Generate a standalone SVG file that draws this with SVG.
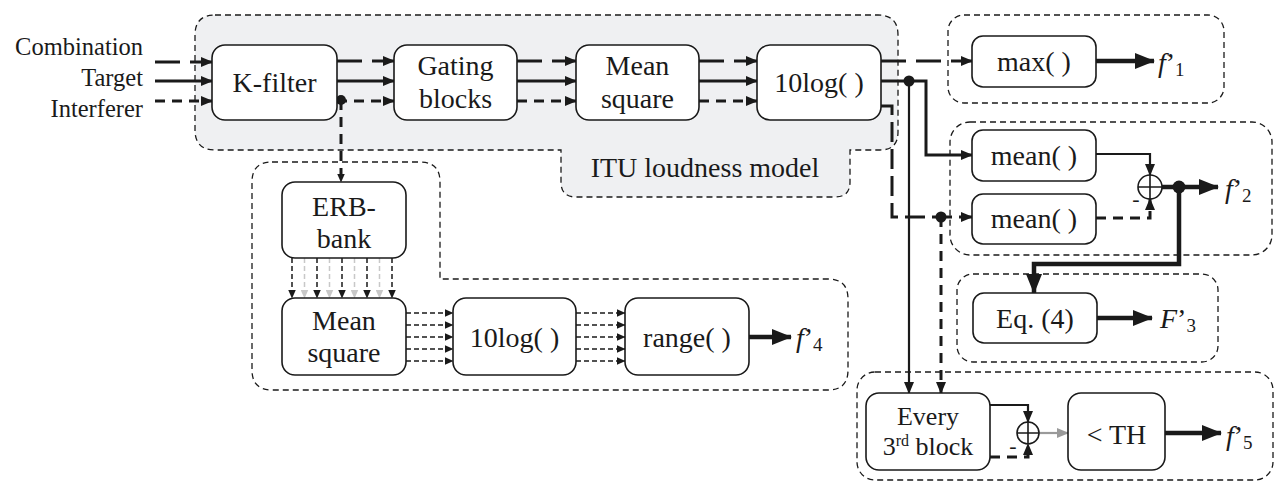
<svg xmlns="http://www.w3.org/2000/svg" width="1277" height="483" viewBox="0 0 1277 483">
  <style>
    text { font-family: "Liberation Serif", "Times New Roman", Tinos, "Noto Serif", "DejaVu Serif", serif; fill: #1a1a1a; }
    .lbl { font-size: 28px; text-anchor: middle; }
    .in { font-size: 24.5px; text-anchor: end; }
    .sm { font-size: 26px; text-anchor: middle; }
    .out { font-size: 28px; }
    .sub { font-size: 19px; }
    .node { fill: #ffffff; stroke: #1a1a1a; stroke-width: 1.6; }
    .grp { fill: none; stroke: #1a1a1a; stroke-width: 1.3; stroke-dasharray: 6 4; }
    .itu { fill: #eff0f2; stroke: #1a1a1a; stroke-width: 1.3; stroke-dasharray: 6 4; }
    .w { fill: none; stroke: #1a1a1a; stroke-width: 3; }
    .solid { marker-end: url(#ah); }
    .long { stroke-dasharray: 25 10; }
    .short { stroke-dasharray: 10 7; }
    .thin { fill: none; stroke: #1a1a1a; stroke-width: 1.5; stroke-dasharray: 5 3; marker-end: url(#ahs); }
    .thin.gray { stroke: #c8c8c8; marker-end: url(#ahg); }
    .thick { fill: none; stroke: #1a1a1a; stroke-width: 4.5; marker-end: url(#ahb); }
    .dot { fill: #1a1a1a; }
    .sum { fill: #ffffff; stroke: #1a1a1a; stroke-width: 1.6; }
  </style>
  <defs>
    <marker id="ah" markerUnits="userSpaceOnUse" markerWidth="12" markerHeight="10" refX="11" refY="5" orient="auto">
      <path d="M0,0 L12,5 L0,10 Z" fill="#1a1a1a"/>
    </marker>
    <marker id="ahs" markerUnits="userSpaceOnUse" markerWidth="9" markerHeight="8" refX="8.5" refY="4" orient="auto">
      <path d="M0,0 L9,4 L0,8 Z" fill="#1a1a1a"/>
    </marker>
    <marker id="ahg" markerUnits="userSpaceOnUse" markerWidth="9" markerHeight="8" refX="8.5" refY="4" orient="auto">
      <path d="M0,0 L9,4 L0,8 Z" fill="#c8c8c8"/>
    </marker>
    <marker id="ahb" markerUnits="userSpaceOnUse" markerWidth="20" markerHeight="16" refX="19" refY="8" orient="auto">
      <path d="M0,0 L20,8 L0,16 Z" fill="#1a1a1a"/>
    </marker>
    <marker id="ahgr" markerUnits="userSpaceOnUse" markerWidth="12" markerHeight="10" refX="11" refY="5" orient="auto">
      <path d="M0,0 L12,5 L0,10 Z" fill="#9a9a9a"/>
    </marker>
  </defs>

  <!-- group outlines -->
  <g id="groups">
    <path id="itu-model" class="itu" d="M215,15 H878 Q898,15 898,35 V132 Q898,150 880,150 H850 V182 Q850,197 835,197 H576 Q561,197 561,182 V150 H215 Q195,150 195,130 V35 Q195,15 215,15 Z"/>
    <path id="erb-stage" class="grp" d="M272,162 H420 Q440,162 440,182 V279 H828 Q848,279 848,299 V370 Q848,390 828,390 H272 Q252,390 252,370 V182 Q252,162 272,162 Z"/>
    <rect id="f1-stage" class="grp" x="948" y="15" width="276" height="88" rx="16"/>
    <rect id="f2-stage" class="grp" x="950" y="122" width="322" height="133" rx="20"/>
    <rect id="f3-stage" class="grp" x="957" y="274" width="261" height="88" rx="16"/>
    <rect id="f5-stage" class="grp" x="857" y="372" width="416" height="108" rx="18"/>
    <text class="lbl" x="705" y="177">ITU loudness model</text>
  </g>

  <!-- input labels -->
  <g id="inputs">
    <text class="in" x="143" y="55">Combination</text>
    <text class="in" x="143" y="86">Target</text>
    <text class="in" x="143" y="117">Interferer</text>
  </g>

  <!-- connectors -->
  <g id="connectors">
    <!-- three-signal chain through the ITU model -->
    <path class="w long solid" d="M155,62 H212"/>
    <path class="w solid" d="M155,81 H212"/>
    <path class="w short solid" d="M155,101 H212"/>

    <path class="w long solid" d="M337,61 H394"/>
    <path class="w solid" d="M337,81 H394"/>
    <path class="w short solid" d="M337,101 H394"/>

    <path class="w long solid" d="M517,61 H576"/>
    <path class="w solid" d="M517,81 H576"/>
    <path class="w short solid" d="M517,101 H576"/>

    <path class="w long solid" d="M699,61 H757"/>
    <path class="w solid" d="M699,81 H757"/>
    <path class="w short solid" d="M699,101 H757"/>

    <!-- K-filter tap to ERB bank -->
    <path class="w short" style="marker-end:url(#ahs)" d="M341,100 V182"/>
    <circle class="dot" cx="341" cy="100" r="5"/>

    <!-- 10log outputs -->
    <path class="w long solid" d="M881,61 H972"/>
    <path class="w solid" d="M881,81 H926 V155 H972"/>
    <path class="w solid" style="stroke-width:2.2" d="M909,81 V393"/>
    <circle class="dot" cx="909" cy="81" r="5.5"/>
    <path class="w solid" style="stroke-dasharray:20 7" d="M881,106 H892 V217 H972"/>
    <path class="w short solid" d="M941,217 V393"/>
    <circle class="dot" cx="941" cy="217" r="5.5"/>

    <!-- f'2 difference -->
    <path class="w solid" style="stroke-width:2.2" d="M1096,154 H1150 V175"/>
    <path class="w short solid" d="M1096,218 H1150 V199"/>
    <path class="thick" d="M1162,187 H1218"/>
    <circle class="dot" cx="1179" cy="187" r="6.5"/>
    <path class="thick" d="M1179,187 V264 H1034 V293"/>

    <!-- outputs -->
    <path class="thick" d="M1096,61 H1154"/>
    <path class="thick" d="M1097,318 H1152"/>
    <path class="thick" d="M749,337 H791"/>

    <!-- f'5 difference -->
    <path class="w solid" style="stroke-width:2.2" d="M990,405 H1028 V422"/>
    <path class="w short solid" d="M990,457 H1028 V444"/>
    <path class="w" style="stroke:#9a9a9a;stroke-width:2.2;marker-end:url(#ahgr)" d="M1039,433 H1068"/>
    <path class="thick" d="M1165,433 H1221"/>

    <!-- ERB bank bands -->
    <path class="thin" d="M292,258 V298"/>
    <path class="thin gray" d="M304.5,258 V298"/>
    <path class="thin" d="M317,258 V298"/>
    <path class="thin gray" d="M329.5,258 V298"/>
    <path class="thin" d="M342,258 V298"/>
    <path class="thin gray" d="M354.5,258 V298"/>
    <path class="thin" d="M367,258 V298"/>
    <path class="thin gray" d="M379.5,258 V298"/>
    <path class="thin" d="M392,258 V298"/>

    <path class="thin" d="M406,313 H453"/>
    <path class="thin" d="M406,325 H453"/>
    <path class="thin" d="M406,337 H453"/>
    <path class="thin" d="M406,349 H453"/>
    <path class="thin" d="M406,361 H453"/>

    <path class="thin" d="M576,313 H625"/>
    <path class="thin" d="M576,325 H625"/>
    <path class="thin" d="M576,337 H625"/>
    <path class="thin" d="M576,349 H625"/>
    <path class="thin" d="M576,361 H625"/>
  </g>

  <!-- ITU loudness model blocks -->
  <g id="k-filter">
    <rect class="node" x="212" y="45" width="125" height="75" rx="13"/>
    <text class="lbl" x="274.5" y="92">K-filter</text>
  </g>
  <g id="gating-blocks">
    <rect class="node" x="394" y="45" width="123" height="75" rx="13"/>
    <text class="lbl" x="455.5" y="75">Gating</text>
    <text class="lbl" x="455.5" y="108">blocks</text>
  </g>
  <g id="mean-square">
    <rect class="node" x="576" y="45" width="123" height="75" rx="13"/>
    <text class="lbl" x="637.5" y="75">Mean</text>
    <text class="lbl" x="637.5" y="108">square</text>
  </g>
  <g id="log10">
    <rect class="node" x="757" y="45" width="124" height="75" rx="13"/>
    <text class="lbl" x="819" y="92">10log( )</text>
  </g>

  <!-- feature f'1 -->
  <g id="max">
    <rect class="node" x="972" y="36" width="124" height="51" rx="11"/>
    <text class="lbl" x="1034" y="71">max( )</text>
  </g>
  <g id="f1">
    <text class="out" x="1158" y="72"><tspan font-style="italic">f</tspan>’<tspan class="sub" dy="4">1</tspan></text>
  </g>

  <!-- feature f'2 -->
  <g id="mean-target">
    <rect class="node" x="972" y="130" width="124" height="51" rx="11"/>
    <text class="lbl" x="1034" y="165">mean( )</text>
  </g>
  <g id="mean-interferer">
    <rect class="node" x="972" y="194" width="124" height="50" rx="11"/>
    <text class="lbl" x="1034" y="228">mean( )</text>
  </g>
  <g id="sum-f2">
    <circle class="sum" cx="1150" cy="187" r="12"/>
    <path d="M1138,187 H1162 M1150,175 V199" stroke="#1a1a1a" stroke-width="1.6"/>
    <text x="1136" y="206" font-size="22" text-anchor="middle">-</text>
  </g>
  <g id="f2">
    <text class="out" x="1225" y="198"><tspan font-style="italic">f</tspan>’<tspan class="sub" dy="4">2</tspan></text>
  </g>

  <!-- feature F'3 -->
  <g id="eq4">
    <rect class="node" x="973" y="293" width="124" height="50" rx="11"/>
    <text class="lbl" x="1035" y="328">Eq. (4)</text>
  </g>
  <g id="f3">
    <text class="out" x="1160" y="328"><tspan font-style="italic">F</tspan>’<tspan class="sub" dy="4">3</tspan></text>
  </g>

  <!-- feature f'4 -->
  <g id="erb-bank">
    <rect class="node" x="282" y="182" width="124" height="76" rx="13"/>
    <text class="lbl" x="344" y="216">ERB-</text>
    <text class="lbl" x="344" y="248">bank</text>
  </g>
  <g id="band-mean-square">
    <rect class="node" x="282" y="298" width="124" height="77" rx="13"/>
    <text class="lbl" x="344" y="330">Mean</text>
    <text class="lbl" x="344" y="362">square</text>
  </g>
  <g id="band-log10">
    <rect class="node" x="453" y="298" width="123" height="77" rx="13"/>
    <text class="lbl" x="514.5" y="347">10log( )</text>
  </g>
  <g id="range">
    <rect class="node" x="625" y="298" width="124" height="77" rx="13"/>
    <text class="lbl" x="687" y="347">range( )</text>
  </g>
  <g id="f4">
    <text class="out" x="796" y="347"><tspan font-style="italic">f</tspan>’<tspan class="sub" dy="4">4</tspan></text>
  </g>

  <!-- feature f'5 -->
  <g id="every-third">
    <rect class="node" x="866" y="393" width="124" height="77" rx="13"/>
    <text class="sm" x="928" y="425">Every</text>
    <text class="sm" x="928" y="455">3<tspan font-size="16" dy="-9">rd</tspan><tspan dy="9"> block</tspan></text>
  </g>
  <g id="sum-f5">
    <circle class="sum" cx="1028" cy="433" r="11"/>
    <path d="M1017,433 H1039 M1028,422 V444" stroke="#1a1a1a" stroke-width="1.6"/>
    <text x="1013" y="453" font-size="22" text-anchor="middle">-</text>
  </g>
  <g id="threshold">
    <rect class="node" x="1068" y="393" width="97" height="77" rx="13"/>
    <text class="lbl" x="1116.5" y="444">&lt; TH</text>
  </g>
  <g id="f5">
    <text class="out" x="1226" y="445"><tspan font-style="italic">f</tspan>’<tspan class="sub" dy="4">5</tspan></text>
  </g>
</svg>
